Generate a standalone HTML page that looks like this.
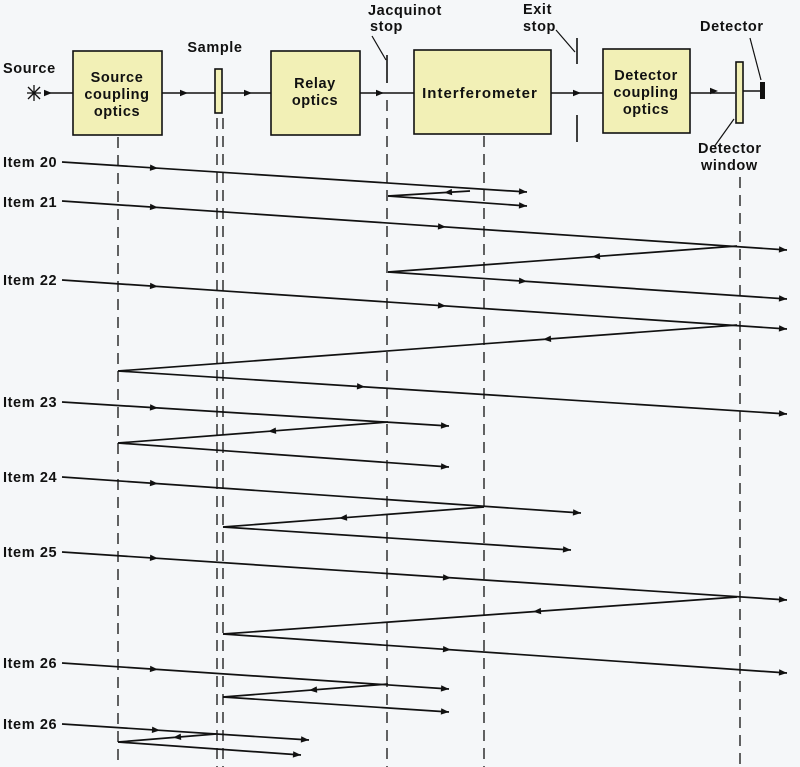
<!DOCTYPE html>
<html><head><meta charset="utf-8"><style>
html,body{margin:0;padding:0;background:#f5f7f9;}
svg{display:block;}
text{font-family:"Liberation Sans",sans-serif;font-weight:bold;font-size:14.5px;letter-spacing:0.6px;fill:#111;}
</style></head><body>
<svg id="s" width="800" height="767" viewBox="0 0 800 767" xmlns="http://www.w3.org/2000/svg">
<g stroke="#111" stroke-width="1.6" fill="none">
<line x1="50" y1="93" x2="735" y2="93"/>
<line x1="743" y1="91" x2="760" y2="91"/>
</g>
<g stroke="#111" stroke-width="1.6" fill="#f2f0b6">
<rect x="73" y="51" width="89" height="84"/>
<rect x="271" y="51" width="89" height="84"/>
<rect x="414" y="50" width="137" height="84"/>
<rect x="603" y="49" width="87" height="84"/>
<rect x="215" y="69" width="7" height="44"/>
<rect x="736" y="62" width="7" height="61"/>
</g>
<rect x="760" y="82" width="5" height="17" fill="#111"/>
<g stroke="#111" stroke-width="1.6">
<line x1="387" y1="55" x2="387" y2="83"/>
<line x1="577" y1="38" x2="577" y2="64"/>
<line x1="577" y1="115" x2="577" y2="142"/>
<line x1="372" y1="36" x2="386" y2="60" stroke-width="1.2"/>
<line x1="556" y1="30" x2="575" y2="52" stroke-width="1.2"/>
<line x1="750" y1="38" x2="761" y2="80" stroke-width="1.2"/>
<line x1="714" y1="147" x2="734" y2="119" stroke-width="1.2"/>
<line x1="27" y1="93" x2="41" y2="93" stroke-width="1.3"/>
<line x1="34" y1="85" x2="34" y2="101" stroke-width="1.3"/>
<line x1="28" y1="87" x2="40" y2="99" stroke-width="1.3"/>
<line x1="40" y1="87" x2="28" y2="99" stroke-width="1.3"/>
</g>
<g stroke="#111" stroke-width="1.3" stroke-dasharray="11,7">
<line x1="118" y1="137" x2="118" y2="767"/>
<line x1="217" y1="118" x2="217" y2="767"/>
<line x1="223" y1="118" x2="223" y2="767"/>
<line x1="387" y1="100" x2="387" y2="767"/>
<line x1="484" y1="136" x2="484" y2="767"/>
<line x1="740" y1="177" x2="740" y2="767"/>
</g>
<text x="3" y="73">Source</text>
<text x="117" y="82" text-anchor="middle">Source</text>
<text x="117" y="99" text-anchor="middle">coupling</text>
<text x="117" y="116" text-anchor="middle">optics</text>
<text x="215" y="52" text-anchor="middle">Sample</text>
<text x="315" y="88" text-anchor="middle">Relay</text>
<text x="315" y="105" text-anchor="middle">optics</text>
<text x="368" y="15">Jacquinot</text>
<text x="370" y="31">stop</text>
<text x="480" y="98" text-anchor="middle" style="font-size:15px;letter-spacing:1px">Interferometer</text>
<text x="523" y="14">Exit</text>
<text x="523" y="31">stop</text>
<text x="646" y="80" text-anchor="middle">Detector</text>
<text x="646" y="97" text-anchor="middle">coupling</text>
<text x="646" y="114" text-anchor="middle">optics</text>
<text x="700" y="31">Detector</text>
<text x="698" y="153">Detector</text>
<text x="701" y="170">window</text>
<text x="3" y="167">Item 20</text>
<text x="3" y="207">Item 21</text>
<text x="3" y="285">Item 22</text>
<text x="3" y="407">Item 23</text>
<text x="3" y="482">Item 24</text>
<text x="3" y="557">Item 25</text>
<text x="3" y="668">Item 26</text>
<text x="3" y="729">Item 26</text>
<g id="rays" stroke="#111" stroke-width="1.7" fill="none"></g>
<g id="heads" fill="#111"></g>
</svg>
<script>
var R=document.getElementById('rays'),H=document.getElementById('heads'),NS='http://www.w3.org/2000/svg';
function head(x,y,dx,dy){var l=Math.hypot(dx,dy);dx/=l;dy/=l;var L=8,W=3.2;
var p=document.createElementNS(NS,'polygon');
p.setAttribute('points',(x)+','+(y)+' '+(x-L*dx-W*dy)+','+(y-L*dy+W*dx)+' '+(x-L*dx+W*dy)+','+(y-L*dy-W*dx));H.appendChild(p);}
function seg(x1,y1,x2,y2,mx,end){var l=document.createElementNS(NS,'line');
l.setAttribute('x1',x1);l.setAttribute('y1',y1);l.setAttribute('x2',x2);l.setAttribute('y2',y2);R.appendChild(l);
var dx=x2-x1,dy=y2-y1;
if(mx!=null){var t=(mx-x1)/dx;head(mx,y1+t*dy,dx,dy);}
if(end)head(x2,y2,dx,dy);}
head(52,93,1,0);head(188,93,1,0);head(252,93,1,0);head(384,93,1,0);head(581,93,1,0);head(718,91,1,0);
seg(62,162,527,192,158,true);
seg(470,191,388,196,444,false);
seg(388,196,527,206,null,true);
seg(62,201,787,250,158,true);head(446,227,1,0.068);
seg(737,246,388,272,592,false);
seg(388,272,787,299,527,true);
seg(62,280,787,329,158,true);head(446,306,1,0.068);
seg(737,325,118,371,543,false);
seg(118,371,787,414,365,true);
seg(62,402,449,426,158,true);
seg(388,422,118,443,268,false);
seg(118,443,449,467,null,true);
seg(62,477,581,513,158,true);
seg(484,507,223,527,339,false);
seg(223,527,571,550,null,true);
seg(62,552,787,600,158,true);head(451,578,1,0.066);
seg(737,597,223,634,533,false);
seg(223,634,787,673,451,true);
seg(62,663,449,689,158,true);
seg(388,684,223,697,309,false);
seg(223,697,449,712,null,true);
seg(62,724,309,740,160,true);
seg(216,734,118,742,173,false);
seg(118,742,301,755,null,true);
</script>
</body></html>
